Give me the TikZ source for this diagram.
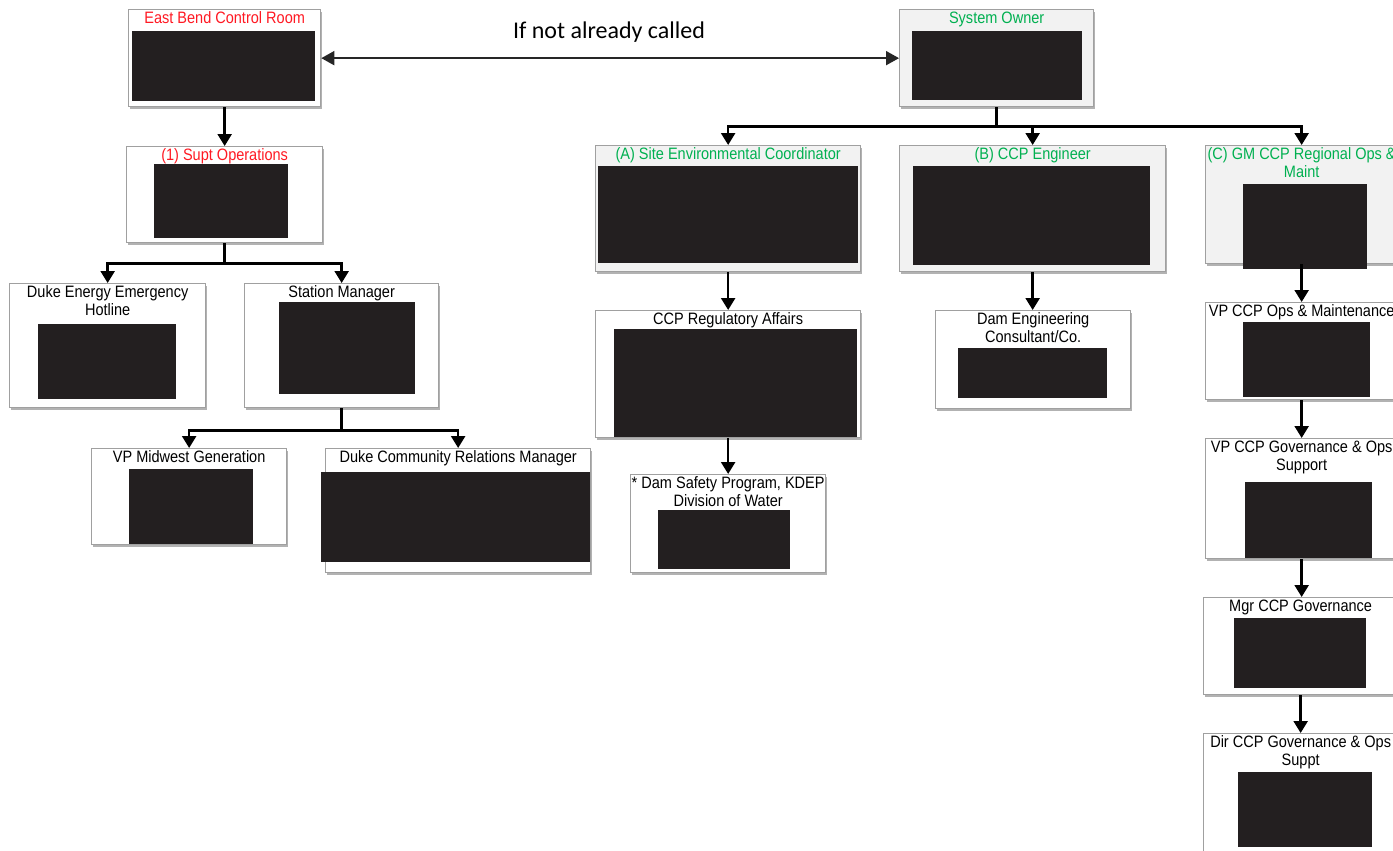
\documentclass[tikz,border=0pt]{standalone}
\usepackage{fontspec}
\setmainfont{Liberation Sans}[FakeStretch=0.88]
\newfontfamily\callfont{Carlito}
\usetikzlibrary{arrows.meta,shadows}
\definecolor{dukered}{RGB}{255,25,35}
\definecolor{dukegreen}{RGB}{0,176,80}
\definecolor{panel}{RGB}{242,242,242}
\definecolor{redact}{RGB}{35,31,32}
\definecolor{rim}{RGB}{160,160,160}

\begin{document}
\begin{tikzpicture}[x=1pt,y=-1pt,
  box/.style={draw=rim, line width=1.3pt, fill=white, anchor=north west, inner sep=0pt,
    drop shadow={shadow xshift=1.5pt, shadow yshift=-2.5pt, fill=black!50, opacity=0.6}},
  greybox/.style={box, fill=panel},
  title/.style={anchor=north, inner sep=2.5pt, align=center, font=\fontsize{16.5}{18}\selectfont},
  link/.style={-{Triangle[length=12pt,width=14pt]}, line width=2.4pt}]
\path[use as bounding box, fill=white] (0,0) rectangle (1393,851);

% left tree
\node[box, minimum width=192pt, minimum height=97pt] (ebcr) at (128,9) {};
\node[title, text=dukered] (ebcrt) at (ebcr.north) {East Bend Control Room};
\fill[redact] (132,31) rectangle (315,101);

\node[box, minimum width=196pt, minimum height=96pt] (supt) at (126,146) {};
\node[title, text=dukered] (suptt) at (supt.north) {(1) Supt Operations};
\fill[redact] (154,164) rectangle (288,238);

\node[box, minimum width=196pt, minimum height=124pt] (hotline) at (9,283) {};
\node[title] (hotlinet) at (hotline.north) {Duke Energy Emergency\\Hotline};
\fill[redact] (38,324) rectangle (176,399);

\node[box, minimum width=194pt, minimum height=124pt] (station) at (244,283) {};
\node[title] (stationt) at (station.north) {Station Manager};
\fill[redact] (279,302) rectangle (415,394);

\node[box, minimum width=195pt, minimum height=96pt] (vpmid) at (91,448) {};
\node[title] (vpmidt) at (vpmid.north) {VP Midwest Generation};
\fill[redact] (129,469) rectangle (253,544);

\node[box, minimum width=265pt, minimum height=124pt] (community) at (325,448) {};
\node[title] (communityt) at (community.north) {Duke Community Relations Manager};
\fill[redact] (321,472) rectangle (590,562);

% right tree
\node[greybox, minimum width=194pt, minimum height=97pt] (owner) at (899,9) {};
\node[title, text=dukegreen] (ownert) at (owner.north) {System Owner};
\fill[redact] (912,31) rectangle (1082,100);

\node[greybox, minimum width=265pt, minimum height=126pt] (site) at (595,145) {};
\node[title, text=dukegreen] (sitet) at (site.north) {(A) Site Environmental Coordinator};
\fill[redact] (598,166) rectangle (858,263);

\node[greybox, minimum width=266pt, minimum height=126pt] (engineer) at (899,145) {};
\node[title, text=dukegreen] (engineert) at (engineer.north) {(B) CCP Engineer};
\fill[redact] (913,166) rectangle (1150,265);

\node[greybox, minimum width=192pt, minimum height=118pt] (gm) at (1205,145) {};
\node[title, text=dukegreen] (gmt) at (gm.north) {(C) GM CCP Regional Ops \&\\Maint};
\fill[redact] (1243,184) rectangle (1367,269);

\node[box, minimum width=265pt, minimum height=127pt] (regaff) at (595,310) {};
\node[title] (regafft) at (regaff.north) {CCP Regulatory Affairs};
\fill[redact] (614,329) rectangle (857,437);

\node[box, minimum width=195pt, minimum height=98pt] (damsafe) at (630,474) {};
\node[title] (damsafet) at (damsafe.north) {* Dam Safety Program, KDEP\\Division of Water};
\fill[redact] (658,510) rectangle (790,569);

\node[box, minimum width=195pt, minimum height=98pt] (dameng) at (935,310) {};
\node[title] (damengt) at (dameng.north) {Dam Engineering\\Consultant/Co.};
\fill[redact] (958,348) rectangle (1107,398);

\node[box, minimum width=192pt, minimum height=97pt] (vpops) at (1205,302) {};
\node[title] (vpopst) at (vpops.north) {VP CCP Ops \& Maintenance};
\fill[redact] (1243,322) rectangle (1370,397);

\node[box, minimum width=192pt, minimum height=120pt] (vpgov) at (1205,438) {};
\node[title] (vpgovt) at (vpgov.north) {VP CCP Governance \& Ops\\Support};
\fill[redact] (1245,482) rectangle (1372,558);

\node[box, minimum width=194pt, minimum height=97pt] (mgrgov) at (1203,597) {};
\node[title] (mgrgovt) at (mgrgov.north) {Mgr CCP Governance};
\fill[redact] (1234,618) rectangle (1366,688);

\node[box, minimum width=194pt, minimum height=125pt] (dirgov) at (1203,733) {};
\node[title] (dirgovt) at (dirgov.north) {Dir CCP Governance \& Ops\\Suppt};
\fill[redact] (1238,772) rectangle (1372,847);

% connectors
\draw[{Triangle[length=13pt,width=14pt]}-{Triangle[length=13pt,width=14pt]}, line width=1.8pt, black!85]
  (ebcr.east) -- (owner.west);
\node[font=\callfont\fontsize{24}{26}\selectfont] (called) at (609,32) {If not already called};

\draw[link] (ebcr.south) -- (supt.north);
\draw[link] (supt.south) -- ++(0,20) -| (hotline.north);
\draw[link] (supt.south) -- ++(0,20) -| (station.north);
\draw[link] (station.south) -- ++(0,22) -| (vpmid.north);
\draw[link] (station.south) -- ++(0,22) -| (community.north);

\draw[link] (owner.south) -- ++(0,19) -| (site.north);
\draw[link] (owner.south) -- ++(0,19) -| (engineer.north);
\draw[link] (owner.south) -- ++(0,19) -| (gm.north);
\draw[link] (site.south) -- (regaff.north);
\draw[link] (regaff.south) -- (damsafe.north);
\draw[link] (engineer.south) -- (engineer.south |- dameng.north);
\draw[link] (gm.south) -- (gm.south |- vpops.north);
\draw[link] (vpops.south) -- (vpgov.north);
\draw[link] (vpgov.south) -- (vpgov.south |- mgrgov.north);
\draw[link] (mgrgov.south) -- (mgrgov.south |- dirgov.north);
\end{tikzpicture}
\end{document}
